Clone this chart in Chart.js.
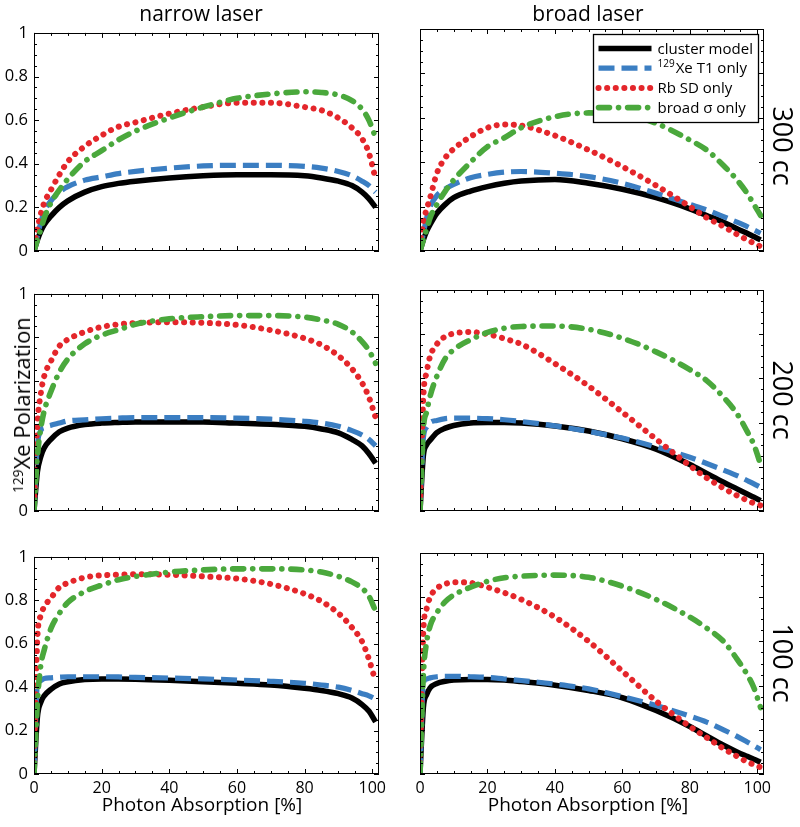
<!DOCTYPE html>
<html><head><meta charset="utf-8">
<script src="https://cdn.jsdelivr.net/npm/chart.js@4.4.0/dist/chart.umd.min.js"></script>
<style>
html,body{margin:0;padding:0;background:#fff;}
#wrap{position:relative;width:800px;height:827px;overflow:hidden;font-family:"Open Sans",sans-serif;color:#000;}
#wrap canvas{position:absolute;}
.t{position:absolute;white-space:nowrap;line-height:1;}
.sup{font-size:0.62em;position:relative;top:-0.55em;}
</style></head>
<body><div id="wrap"></div>
<script>
// ---------- data ----------
const absorption = [0, 1, 2, 3, 5, 7.5, 10, 15, 20, 25, 30, 40, 50, 60, 70, 80, 85, 90, 94, 97, 99, 101];
const seriesNames = ['cluster model', 'Xe T1 only', 'Rb SD only', 'broad \u03c3 only'];
const seriesSup = ['', '129', '', ''];
const columnTitles = ['narrow laser', 'broad laser'];
const rowLabels = ['300 cc', '200 cc', '100 cc'];
const xTickValues = [0, 20, 40, 60, 80, 100];
const yTickValues = [0, 0.2, 0.4, 0.6, 0.8, 1];
const xMinorStep = 5, yMinorStep = 0.05;

// narrow laser, 300 cc
const narrow300_cluster = [0, 0.05, 0.09, 0.12, 0.16, 0.2, 0.23, 0.27, 0.295, 0.31, 0.32, 0.335, 0.345, 0.35, 0.35, 0.345, 0.335, 0.32, 0.3, 0.27, 0.24, 0.2];
const narrow300_xe = [0, 0.07, 0.13, 0.18, 0.23, 0.27, 0.295, 0.325, 0.34, 0.355, 0.365, 0.38, 0.39, 0.393, 0.393, 0.388, 0.38, 0.365, 0.345, 0.32, 0.3, 0.27];
const narrow300_rb = [0.02, 0.1, 0.17, 0.22, 0.28, 0.35, 0.41, 0.48, 0.53, 0.57, 0.59, 0.63, 0.66, 0.68, 0.68, 0.66, 0.645, 0.61, 0.565, 0.515, 0.45, 0.33];
const narrow300_sigma = [0, 0.05, 0.1, 0.15, 0.22, 0.28, 0.33, 0.41, 0.46, 0.51, 0.55, 0.61, 0.66, 0.7, 0.72, 0.73, 0.727, 0.715, 0.69, 0.65, 0.6, 0.52];
// broad laser, 300 cc
const broad300_cluster = [0, 0.05, 0.09, 0.12, 0.17, 0.21, 0.24, 0.27, 0.29, 0.305, 0.315, 0.322, 0.305, 0.278, 0.24, 0.19, 0.16, 0.13, 0.1, 0.08, 0.065, 0.05];
const broad300_xe = [0, 0.08, 0.15, 0.2, 0.25, 0.28, 0.3, 0.33, 0.345, 0.355, 0.358, 0.35, 0.335, 0.305, 0.26, 0.21, 0.185, 0.155, 0.13, 0.11, 0.095, 0.08];
const broad300_rb = [0.02, 0.13, 0.19, 0.24, 0.35, 0.42, 0.46, 0.515, 0.555, 0.57, 0.565, 0.52, 0.455, 0.38, 0.295, 0.2, 0.15, 0.11, 0.075, 0.05, 0.035, 0.02];
const broad300_sigma = [0, 0.05, 0.1, 0.15, 0.21, 0.27, 0.32, 0.4, 0.47, 0.51, 0.555, 0.605, 0.622, 0.617, 0.575, 0.5, 0.455, 0.385, 0.32, 0.26, 0.21, 0.16];
// narrow laser, 200 cc
const narrow200_cluster = [0, 0.18, 0.25, 0.29, 0.33, 0.365, 0.382, 0.398, 0.405, 0.408, 0.41, 0.41, 0.41, 0.405, 0.4, 0.39, 0.378, 0.36, 0.33, 0.3, 0.265, 0.22];
const narrow200_xe = [0, 0.3, 0.37, 0.385, 0.395, 0.405, 0.415, 0.42, 0.425, 0.428, 0.43, 0.43, 0.43, 0.428, 0.423, 0.413, 0.405, 0.39, 0.37, 0.35, 0.33, 0.3];
const narrow200_rb = [0.03, 0.4, 0.54, 0.62, 0.69, 0.76, 0.79, 0.825, 0.848, 0.86, 0.866, 0.87, 0.867, 0.857, 0.833, 0.795, 0.765, 0.715, 0.655, 0.59, 0.525, 0.43];
const narrow200_sigma = [0, 0.25, 0.38, 0.46, 0.55, 0.64, 0.7, 0.77, 0.81, 0.835, 0.86, 0.885, 0.895, 0.9, 0.9, 0.893, 0.88, 0.86, 0.825, 0.78, 0.74, 0.68];
// broad laser, 200 cc
const broad200_cluster = [0, 0.25, 0.3, 0.32, 0.355, 0.375, 0.387, 0.398, 0.4, 0.4, 0.398, 0.385, 0.362, 0.327, 0.28, 0.21, 0.17, 0.13, 0.1, 0.077, 0.062, 0.047];
const broad200_xe = [0, 0.33, 0.38, 0.4, 0.41, 0.418, 0.42, 0.42, 0.418, 0.413, 0.405, 0.385, 0.36, 0.33, 0.29, 0.243, 0.215, 0.185, 0.16, 0.138, 0.123, 0.107];
const broad200_rb = [0.03, 0.52, 0.63, 0.7, 0.755, 0.79, 0.803, 0.81, 0.8, 0.78, 0.755, 0.667, 0.565, 0.447, 0.325, 0.205, 0.15, 0.103, 0.07, 0.048, 0.035, 0.025];
const broad200_sigma = [0, 0.37, 0.45, 0.52, 0.61, 0.69, 0.73, 0.775, 0.808, 0.827, 0.835, 0.837, 0.822, 0.782, 0.72, 0.64, 0.59, 0.515, 0.44, 0.36, 0.3, 0.21];
// narrow laser, 100 cc
const narrow100_cluster = [0, 0.26, 0.33, 0.36, 0.39, 0.415, 0.425, 0.435, 0.438, 0.438, 0.437, 0.432, 0.425, 0.418, 0.41, 0.395, 0.385, 0.37, 0.35, 0.32, 0.29, 0.24];
const narrow100_xe = [0, 0.41, 0.43, 0.44, 0.443, 0.446, 0.448, 0.448, 0.448, 0.447, 0.445, 0.442, 0.438, 0.433, 0.427, 0.418, 0.41, 0.4, 0.385, 0.37, 0.36, 0.345];
const narrow100_rb = [0.05, 0.63, 0.73, 0.77, 0.81, 0.86, 0.88, 0.905, 0.915, 0.918, 0.92, 0.918, 0.91, 0.9, 0.875, 0.83, 0.795, 0.74, 0.675, 0.61, 0.53, 0.425];
const narrow100_sigma = [0, 0.33, 0.5, 0.57, 0.67, 0.74, 0.79, 0.84, 0.87, 0.895, 0.91, 0.93, 0.94, 0.945, 0.945, 0.94, 0.93, 0.91, 0.885, 0.855, 0.82, 0.75];
// broad laser, 100 cc
const broad100_cluster = [0, 0.3, 0.36, 0.39, 0.41, 0.42, 0.425, 0.428, 0.428, 0.425, 0.418, 0.402, 0.378, 0.345, 0.287, 0.215, 0.172, 0.13, 0.1, 0.08, 0.067, 0.053];
const broad100_xe = [0, 0.41, 0.43, 0.435, 0.44, 0.442, 0.442, 0.44, 0.437, 0.43, 0.423, 0.407, 0.385, 0.35, 0.31, 0.262, 0.235, 0.2, 0.17, 0.145, 0.128, 0.11];
const broad100_rb = [0.05, 0.65, 0.75, 0.8, 0.84, 0.86, 0.868, 0.865, 0.845, 0.82, 0.79, 0.71, 0.6, 0.465, 0.33, 0.215, 0.165, 0.115, 0.08, 0.055, 0.042, 0.03];
const broad100_sigma = [0, 0.45, 0.6, 0.67, 0.73, 0.78, 0.81, 0.845, 0.872, 0.888, 0.895, 0.9, 0.89, 0.85, 0.79, 0.71, 0.66, 0.6, 0.52, 0.45, 0.39, 0.3];

const panelSeries = [
  [[narrow300_cluster, narrow300_xe, narrow300_rb, narrow300_sigma], [broad300_cluster, broad300_xe, broad300_rb, broad300_sigma]],
  [[narrow200_cluster, narrow200_xe, narrow200_rb, narrow200_sigma], [broad200_cluster, broad200_xe, broad200_rb, broad200_sigma]],
  [[narrow100_cluster, narrow100_xe, narrow100_rb, narrow100_sigma], [broad100_cluster, broad100_xe, broad100_rb, broad100_sigma]]
];

// ---------- styles / layout ----------
const FONT = "'Open Sans', sans-serif";
const seriesStyle = [
  {color: '#000000', width: 5.5, dash: [], cap: 'butt'},
  {color: '#3b7ec2', width: 5.2, dash: [16, 7], cap: 'butt'},
  {color: '#e4262b', width: 6, dash: [0.1, 8.5], cap: 'round'},
  {color: '#4aa83c', width: 5.6, dash: [11, 9, 0.1, 9], cap: 'round'}
];
const colBox = [{left: 34, width: 345}, {left: 420, width: 344}];
const rowBox = [{top: 29, height: 222}, {top: 290, height: 221}, {top: 553, height: 221}];
const ML = 34, MT = 12, MR = 16, MB = 28;

const framePlugin = {
  id: 'frame',
  afterDatasetsDraw(chart) {
    const {ctx, chartArea: a} = chart;
    const xs = chart.scales.x, ys = chart.scales.y;
    ctx.save();
    ctx.strokeStyle = '#000';
    ctx.lineWidth = 1;
    ctx.setLineDash([]);
    ctx.beginPath();
    for (let i = 0; i * xMinorStep <= 100 + 1e-9; i++) {
      const v = i * xMinorStep;
      const px = Math.round(xs.getPixelForValue(v)) + 0.5;
      const len = xTickValues.includes(v) ? 5 : 3;
      ctx.moveTo(px, a.bottom); ctx.lineTo(px, a.bottom - len);
      ctx.moveTo(px, a.top); ctx.lineTo(px, a.top + len);
    }
    for (let i = 0; i * yMinorStep <= 1 + 1e-9; i++) {
      const v = Math.round(i * yMinorStep * 100) / 100;
      const py = Math.round(ys.getPixelForValue(v)) + 0.5;
      const len = yTickValues.includes(v) ? 5 : 3;
      ctx.moveTo(a.left, py); ctx.lineTo(a.left + len, py);
      ctx.moveTo(a.right, py); ctx.lineTo(a.right - len, py);
    }
    ctx.stroke();
    ctx.strokeRect(Math.round(a.left) + 0.5, Math.round(a.top) + 0.5, Math.round(a.right - a.left) - 1, Math.round(a.bottom - a.top) - 1);
    ctx.restore();
  }
};

const legendPlugin = {
  id: 'boxLegend',
  afterDraw(chart) {
    const {ctx, chartArea: a} = chart;
    const w = 165, h = 88;
    const bx = Math.round(a.right - 6 - w) + 0.5, by = Math.round(a.top + 5) + 0.5;
    ctx.save();
    ctx.fillStyle = '#fff';
    ctx.fillRect(bx, by, w, h);
    ctx.strokeStyle = '#000'; ctx.lineWidth = 1.3; ctx.setLineDash([]);
    ctx.strokeRect(bx, by, w, h);
    chart.data.datasets.forEach((ds, i) => {
      const cy = by + 14 + i * 19.7;
      ctx.save();
      ctx.strokeStyle = ds.borderColor;
      ctx.lineWidth = ds.borderWidth;
      ctx.setLineDash(ds.borderDash || []);
      ctx.lineCap = ds.borderCapStyle || 'butt';
      ctx.beginPath();
      ctx.moveTo(bx + 5, cy); ctx.lineTo(bx + 58, cy);
      ctx.stroke();
      ctx.restore();
      ctx.fillStyle = '#000';
      ctx.textBaseline = 'middle';
      let tx = bx + 64;
      if (seriesSup[i]) {
        ctx.font = '10px ' + FONT;
        ctx.fillText(seriesSup[i], tx, cy - 4);
        tx += ctx.measureText(seriesSup[i]).width + 1;
      }
      ctx.font = '15px ' + FONT;
      ctx.fillText(seriesNames[i], tx, cy + 1);
    });
    ctx.restore();
  }
};

const wrap = document.getElementById('wrap');
function addText(html, css) {
  const d = document.createElement('div');
  d.className = 't';
  d.innerHTML = html;
  Object.assign(d.style, css);
  wrap.appendChild(d);
  return d;
}

for (let r = 0; r < 3; r++) {
  for (let c = 0; c < 2; c++) {
    const cb = colBox[c], rb = rowBox[r];
    const cv = document.createElement('canvas');
    const W = cb.width + ML + MR, H = rb.height + MT + MB;
    cv.width = W; cv.height = H;
    cv.style.left = (cb.left - ML) + 'px';
    cv.style.top = (rb.top - MT) + 'px';
    cv.style.width = W + 'px'; cv.style.height = H + 'px';
    wrap.appendChild(cv);
    const series = panelSeries[r][c];
    const datasets = series.map((vals, i) => ({
      label: seriesNames[i],
      data: absorption.map((x, k) => ({x: x, y: vals[k]})),
      borderColor: seriesStyle[i].color,
      borderWidth: seriesStyle[i].width,
      borderDash: seriesStyle[i].dash,
      borderCapStyle: seriesStyle[i].cap,
      borderJoinStyle: 'round',
      pointRadius: 0,
      fill: false,
      cubicInterpolationMode: 'monotone',
      order: -i
    }));
    const chart = new Chart(cv, {
      type: 'line',
      data: {datasets: datasets},
      options: {
        responsive: false, animation: false, devicePixelRatio: 1,
        layout: {padding: {left: 0, top: MT, right: MR, bottom: 0}},
        plugins: {legend: {display: false}, tooltip: {enabled: false}},
        scales: {
          x: {
            type: 'linear', min: 0, max: 102,
            grid: {display: false, drawTicks: false}, border: {display: false},
            ticks: {display: r === 2, stepSize: 20, includeBounds: false, autoSkip: false, maxRotation: 0,
                    padding: 5, color: '#000', font: {family: FONT, size: 16}},
            afterFit: s => { s.height = MB; }
          },
          y: {
            type: 'linear', min: 0, max: 1,
            grid: {display: false, drawTicks: false}, border: {display: false},
            ticks: {display: c === 0, stepSize: 0.2, includeBounds: false, autoSkip: false,
                    padding: 6, color: '#000', font: {family: FONT, size: 16.5},
                    callback: (v) => (r === 1 && v !== 0 && v !== 1) ? '' : String(Math.round(v * 10) / 10)},
            afterFit: s => { s.width = ML; }
          }
        }
      },
      plugins: (r === 0 && c === 1) ? [framePlugin, legendPlugin] : [framePlugin]
    });
  }
}

// ---------- text labels ----------
addText(columnTitles[0], {left: '201px', top: '3px', fontSize: '21px', transform: 'translateX(-50%)'});
addText(columnTitles[1], {left: '588px', top: '3px', fontSize: '21px', transform: 'translateX(-50%)'});
const rowCenters = [146, 400, 663];
rowLabels.forEach((t, i) => addText(t, {left: '783px', top: rowCenters[i] + 'px', fontSize: '27px', transform: 'translate(-50%,-50%) rotate(90deg)'}));
addText('<span class="sup">129</span>Xe Polarization', {left: '21px', top: '405px', fontSize: '22px', transform: 'translate(-50%,-50%) rotate(-90deg)'});
addText('Photon Absorption [%]', {left: '202px', top: '795px', fontSize: '19px', transform: 'translateX(-50%)'});
addText('Photon Absorption [%]', {left: '588px', top: '795px', fontSize: '19px', transform: 'translateX(-50%)'});
</script>
</body></html>
